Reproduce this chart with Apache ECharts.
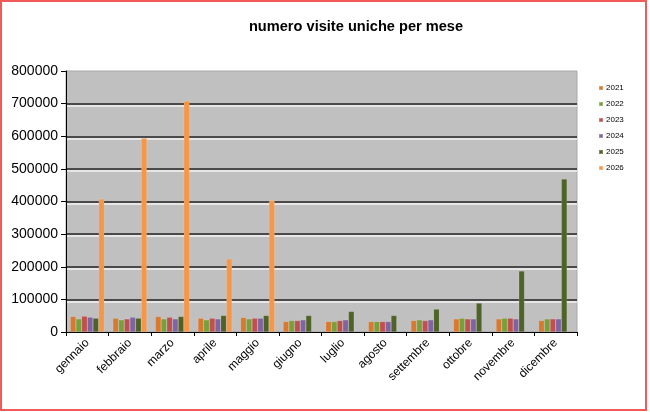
<!DOCTYPE html>
<html>
<head>
<meta charset="utf-8">
<script src="https://cdn.jsdelivr.net/npm/echarts@6/dist/echarts.min.js"></script>
<style>
html,body{margin:0;padding:0;background:#fff;}
#c{width:650px;height:412px;}
</style>
</head>
<body>
<div id="c"></div>
<script>
const months = ['gennaio','febbraio','marzo','aprile','maggio','giugno','luglio','agosto','settembre','ottobre','novembre','dicembre'];
const years = ['2021','2022','2023','2024','2025','2026'];
const v2021 = [47500, 42300, 47500, 42300, 44400, 32000, 32000, 32000, 35100, 40200, 40200, 35100];
const v2022 = [40200, 37200, 40200, 37200, 40200, 35100, 32000, 32000, 37200, 42300, 42300, 40200];
const v2023 = [48500, 40200, 45400, 42300, 42300, 35100, 35100, 32000, 35100, 40200, 42300, 40200];
const v2024 = [45400, 45400, 40200, 40200, 42300, 37200, 37200, 32000, 37200, 40200, 40200, 40200];
const v2025 = [42300, 42300, 47500, 50600, 50600, 50600, 63000, 50600, 70200, 88700, 187000, 469000];
const v2026 = [408000, 594000, 708000, 224000, 403000, null, null, null, null, null, null, null];
const yTicks = [0, 100000, 200000, 300000, 400000, 500000, 600000, 700000, 800000];
const colors = ['#d9782f', '#77a03a', '#c0504d', '#8064a2', '#4f6228', '#f79646'];
const seriesData = [v2021, v2022, v2023, v2024, v2025, v2026];

const chart = echarts.init(document.getElementById('c'), null, {renderer: 'canvas'});
chart.setOption({
  animation: false,
  backgroundColor: '#ffffff',
  title: {
    text: 'numero visite uniche per mese',
    left: 351, top: 14, textAlign: 'center',
    textStyle: {fontFamily: 'Liberation Sans, Arial, sans-serif', fontSize: 14.6, fontWeight: 'bold', color: '#000'}
  },
  legend: {
    orient: 'vertical', left: 593, top: 78,
    itemWidth: 4, itemHeight: 4, itemGap: 6,
    icon: 'rect',
    textStyle: {fontFamily: 'Liberation Sans, Arial, sans-serif', fontSize: 8, lineHeight: 10, color: '#000', padding: [0,0,0,-2]},
    data: years
  },
  grid: {left: 66, right: 73, top: 71, bottom: 80, show: true, backgroundColor: '#c0c0c0', borderColor: '#a8a8a8', borderWidth: 1},
  xAxis: {
    type: 'category', data: months,
    axisLine: {lineStyle: {color: '#000', width: 1}},
    axisTick: {show: true, length: 4, lineStyle: {color: '#000'}},
    axisLabel: {rotate: 45, margin: 9, fontSize: 12, fontFamily: 'Liberation Sans, Arial, sans-serif', color: '#000'}
  },
  yAxis: {
    type: 'value', min: yTicks[0], max: yTicks[yTicks.length-1], interval: yTicks[1]-yTicks[0],
    axisLine: {show: true, lineStyle: {color: '#000', width: 1}},
    axisTick: {show: true, length: 5, lineStyle: {color: '#000'}},
    axisLabel: {margin: 8, fontSize: 14, fontFamily: 'Liberation Sans, Arial, sans-serif', color: '#000', formatter: v => String(v)},
    splitLine: {show: true, showMaxLine: false, showMinLine: false, lineStyle: {color: '#4a4a4a', width: 2, shadowColor: 'rgba(255,255,255,0.6)', shadowOffsetY: 2}}
  },
  series: seriesData.map((d, i) => ({
    name: years[i], type: 'bar', data: d,
    barGap: '0%', barCategoryGap: '20%',
    itemStyle: {color: colors[i], borderColor: 'rgba(255,255,255,0.25)', borderWidth: 0.5}
  })),
  graphic: [{
    type: 'rect', silent: true, z: 100,
    shape: {x: 1, y: 1, width: 645, height: 409},
    style: {fill: 'none', stroke: '#f25a5a', lineWidth: 2}
  }]
});
</script>
</body>
</html>
